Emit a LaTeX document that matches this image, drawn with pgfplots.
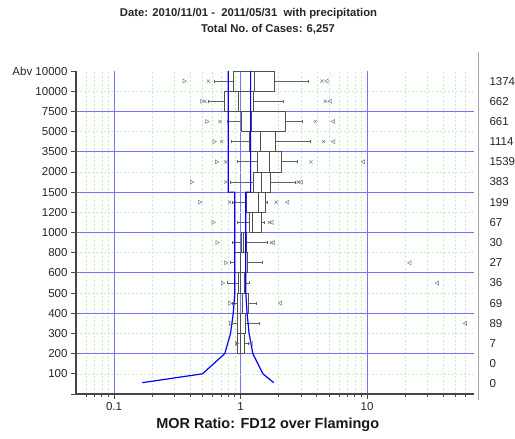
\documentclass[border=0pt]{standalone}
\usepackage{pgfplots}
\usepackage{pgfplotstable}
\pgfplotsset{compat=1.18}
\usepackage{fontspec}
\setmainfont{Liberation Sans}
\definecolor{gridblue}{RGB}{115,115,255}
\definecolor{gridgreen}{RGB}{195,240,195}
\definecolor{boxgray}{RGB}{80,80,80}
\definecolor{whiskgray}{RGB}{100,100,100}
\definecolor{markgray}{RGB}{125,125,125}
\definecolor{axisgray}{RGB}{70,70,70}

% ylo yhi ymid wlo q1 med q3 whi
\newcommand{\boxbin}[8]{%
 \addplot[boxgray, line width=0.8pt] coordinates {(#5,#1) (#7,#1) (#7,#2) (#5,#2) (#5,#1)};
 \addplot[boxgray, line width=0.8pt] coordinates {(#6,#1) (#6,#2)};
 \addplot[whiskgray, line width=0.9pt] coordinates {(#4,#3) (#5,#3)};
 \addplot[whiskgray, line width=0.9pt] coordinates {(#7,#3) (#8,#3)};
 \addplot[whiskgray, only marks, mark=|, mark size=1.5pt, mark options={line width=0.9pt}] coordinates {(#4,#3) (#8,#3)};
}

\pgfplotstableread{
y mn p1 p99 mx
15.5 0.358 0.557 4.40 4.82
14.5 0.493 0.524 4.67 5.11
13.5 0.54 0.687 3.90 5.43
12.5 0.617 0.708 4.53 5.45
11.5 0.644 0.762 3.60 9.35
10.5 0.409 0.762 2.85 3.02
9.5 0.475 0.819 1.91 2.36
8.5 0.605 nan 1.69 1.77
7.5 0.65 nan 1.76 1.81
6.5 0.762 nan nan 21.8
5.5 0.72 nan nan 36.0
4.5 0.819 nan nan 2.07
3.5 0.834 nan nan 60.0
2.5 0.93 nan nan 1.22
}\marksdata

\pgfplotstableread{
x y n
70 15.5 1374
70 14.5 662
70 13.5 661
70 12.5 1114
70 11.5 1539
70 10.5 383
70 9.5 199
70 8.5 67
70 7.5 30
70 6.5 27
70 5.5 36
70 4.5 69
70 3.5 89
70 2.5 7
70 1.5 0
70 0.5 0
}\countsdata

\begin{document}
\begin{tikzpicture}
\useasboundingbox (0,0) rectangle (515pt,439pt);
\begin{axis}[
  at={(76pt,45pt)}, anchor=south west,
  scale only axis, width=398pt, height=323pt,
  clip=false,
  xmode=log, xmin=0.05, xmax=70, ymin=0, ymax=16,
  axis x line*=bottom, axis y line*=left,
  axis line style={axisgray, line width=1.4pt},
  xtick={0.1,1,10}, xticklabels={0.1,1,10},
  minor xtick={0.06,0.07,0.08,0.09,0.2,0.3,0.4,0.5,0.6,0.7,0.8,0.9,2,3,4,5,6,7,8,9,20,30,40,50,60},
  ytick={2,4,6,8,10,12,14},
  yticklabels={200,400,600,1000,1500,3500,7500},
  extra y ticks={0,1,3,5,7,9,11,13,15,16},
  extra y tick labels={,100,300,500,800,1200,2000,5000,10000,Abv 10000},
  extra y tick style={grid=none},
  minor ytick={1,3,5,7,9,11,13,15},
  xmajorgrids, xminorgrids, ymajorgrids, yminorgrids,
  major grid style={gridblue, line width=0.9pt},
  minor grid style={gridgreen, dash pattern=on 2pt off 2pt, line width=0.5pt},
  tick align=outside,
  major tick length=5pt, minor tick length=3pt,
  tick style={axisgray, line width=0.8pt},
  minor y tick style={draw=none},
  tick label style={font=\fontsize{11.5}{13}\selectfont, text=black!85},
]
\boxbin{15}{16}{15.5}{0.617}{0.876}{1.289}{1.863}{3.45}
\boxbin{14}{15}{14.5}{0.557}{0.739}{0.959}{1.273}{2.17}
\boxbin{13}{14}{13.5}{0.794}{1.013}{1.22}{2.26}{3.10}
\boxbin{12}{13}{12.5}{0.849}{1.18}{1.437}{1.90}{3.54}
\boxbin{11}{12}{11.5}{0.942}{1.368}{1.70}{2.09}{2.79}
\boxbin{10}{11}{10.5}{0.834}{1.273}{1.456}{1.72}{2.71}
\boxbin{9}{10}{9.5}{0.865}{1.109}{1.378}{1.573}{1.63}
\boxbin{8}{9}{8.5}{0.942}{1.177}{1.25}{1.456}{1.553}
\boxbin{7}{8}{7.5}{0.87}{1.02}{1.05}{1.12}{1.62}
\boxbin{6}{7}{6.5}{0.834}{0.886}{1.0}{1.13}{1.48}
\boxbin{5}{6}{5.5}{0.794}{0.96}{1.0}{1.07}{1.18}
\boxbin{4}{5}{4.5}{0.86}{0.952}{1.03}{1.162}{1.337}
\boxbin{3}{4}{3.5}{0.86}{0.952}{1.0}{1.095}{1.42}
\boxbin{2}{3}{2.5}{0.93}{0.95}{1.0}{1.08}{1.15}

\addplot[only marks, mark=triangle, mark size=2.3pt, mark options={rotate=-90, markgray, line width=0.5pt}] table[x=mn,y=y] {\marksdata};
\addplot[only marks, mark=triangle, mark size=2.3pt, mark options={rotate=90, markgray, line width=0.5pt}] table[x=mx,y=y] {\marksdata};
\addplot[only marks, mark=x, mark size=2.3pt, mark options={markgray, line width=0.5pt}] table[x=p1,y=y] {\marksdata};
\addplot[only marks, mark=x, mark size=2.3pt, mark options={markgray, line width=0.5pt}] table[x=p99,y=y] {\marksdata};

\addplot[blue, line width=1.2pt] coordinates {(0.8,16) (0.8,10) (0.9,10) (0.9,5) (0.875,4) (0.833,3) (0.75,2) (0.5,1) (0.167,0.56)};
\addplot[blue, line width=1.2pt] coordinates {(1.2,16) (1.2,10) (1.1,10) (1.1,5) (1.125,4) (1.167,3) (1.25,2) (1.5,1) (1.83,0.56)};

\addplot[only marks, mark=none, nodes near coords, point meta=explicit symbolic,
  nodes near coords style={anchor=west, xshift=12pt, text=black!85, font=\fontsize{11.5}{13}\selectfont}]
  table[x=x,y=y,meta=n] {\countsdata};
\end{axis}
\draw[gray!70, line width=0.8pt] (478pt,39pt) -- (478pt,387pt);
\node[font=\bfseries\fontsize{11.3}{13}\selectfont, text=black!85] at (248.5pt,425pt) {Date: 2010/11/01 -\ \ 2011/05/31\ \ with precipitation};
\node[font=\bfseries\fontsize{11.3}{13}\selectfont, text=black!85] at (268pt,410pt) {Total No.\ of Cases: 6,257};
\node[font=\bfseries\fontsize{14.5}{16}\selectfont, text=black!90] at (267.7pt,14.5pt) {MOR Ratio: FD12 over Flamingo};
\end{tikzpicture}
\end{document}
